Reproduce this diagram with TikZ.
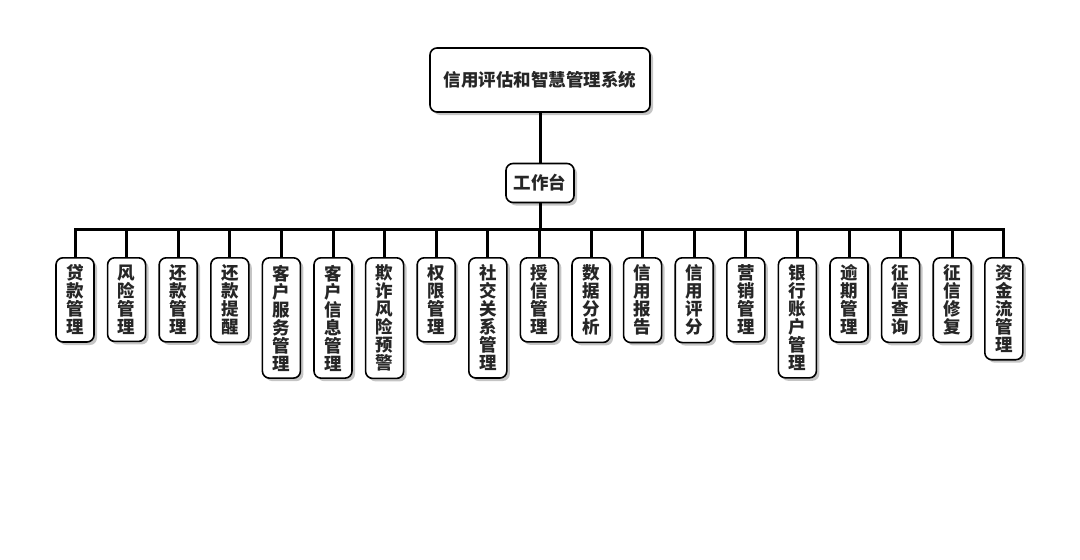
\documentclass[tikz,border=0pt]{standalone}
\usepackage{fontspec}
\newfontfamily\cjk{Noto Sans CJK SC}
\usetikzlibrary{positioning,shadows}

\tikzset{
  box/.style={draw, line width=1.6pt, rounded corners=7pt, fill=white,
    text=black!85, font=\cjk\bfseries\fontsize{17.5}{18}\selectfont,
    drop shadow={shadow xshift=3pt, shadow yshift=-3pt, fill=black!45}},
  leaf/.style={box, anchor=north, align=center, minimum width=38pt,
    inner xsep=1pt, inner ysep=7pt},
  link/.style={line width=3pt}
}

\begin{document}
\begin{tikzpicture}[x=1pt, y=-1pt]
\useasboundingbox (0,0) rectangle (1080,560);
\node[box, minimum width=220pt, minimum height=64pt] (root) at (540,80) {信用评估和智慧管理系统};
\node[box, minimum width=68pt, minimum height=39pt] (desk) at (540,183) {工作台};
\coordinate (bar) at (540,229);
% Leaves
\foreach \t [count=\i] in {贷\\款\\管\\理, 风\\险\\管\\理, 还\\款\\管\\理, 还\\款\\提\\醒,
  客\\户\\服\\务\\管\\理, 客\\户\\信\\息\\管\\理, 欺\\诈\\风\\险\\预\\警, 权\\限\\管\\理,
  社\\交\\关\\系\\管\\理, 授\\信\\管\\理, 数\\据\\分\\析, 信\\用\\报\\告, 信\\用\\评\\分,
  营\\销\\管\\理, 银\\行\\账\\户\\管\\理, 逾\\期\\管\\理, 征\\信\\查\\询, 征\\信\\修\\复,
  资\\金\\流\\管\\理}
  \node[leaf] (l\i) at ({75+51.6*(\i-1)},257) {\t};
% Connectors
\draw[link] (root) -- (desk);
\draw[link] (desk) -- (bar);
\foreach \i in {1,...,19}
  \draw[link] (bar) -| (l\i.north);
\end{tikzpicture}
\end{document}
